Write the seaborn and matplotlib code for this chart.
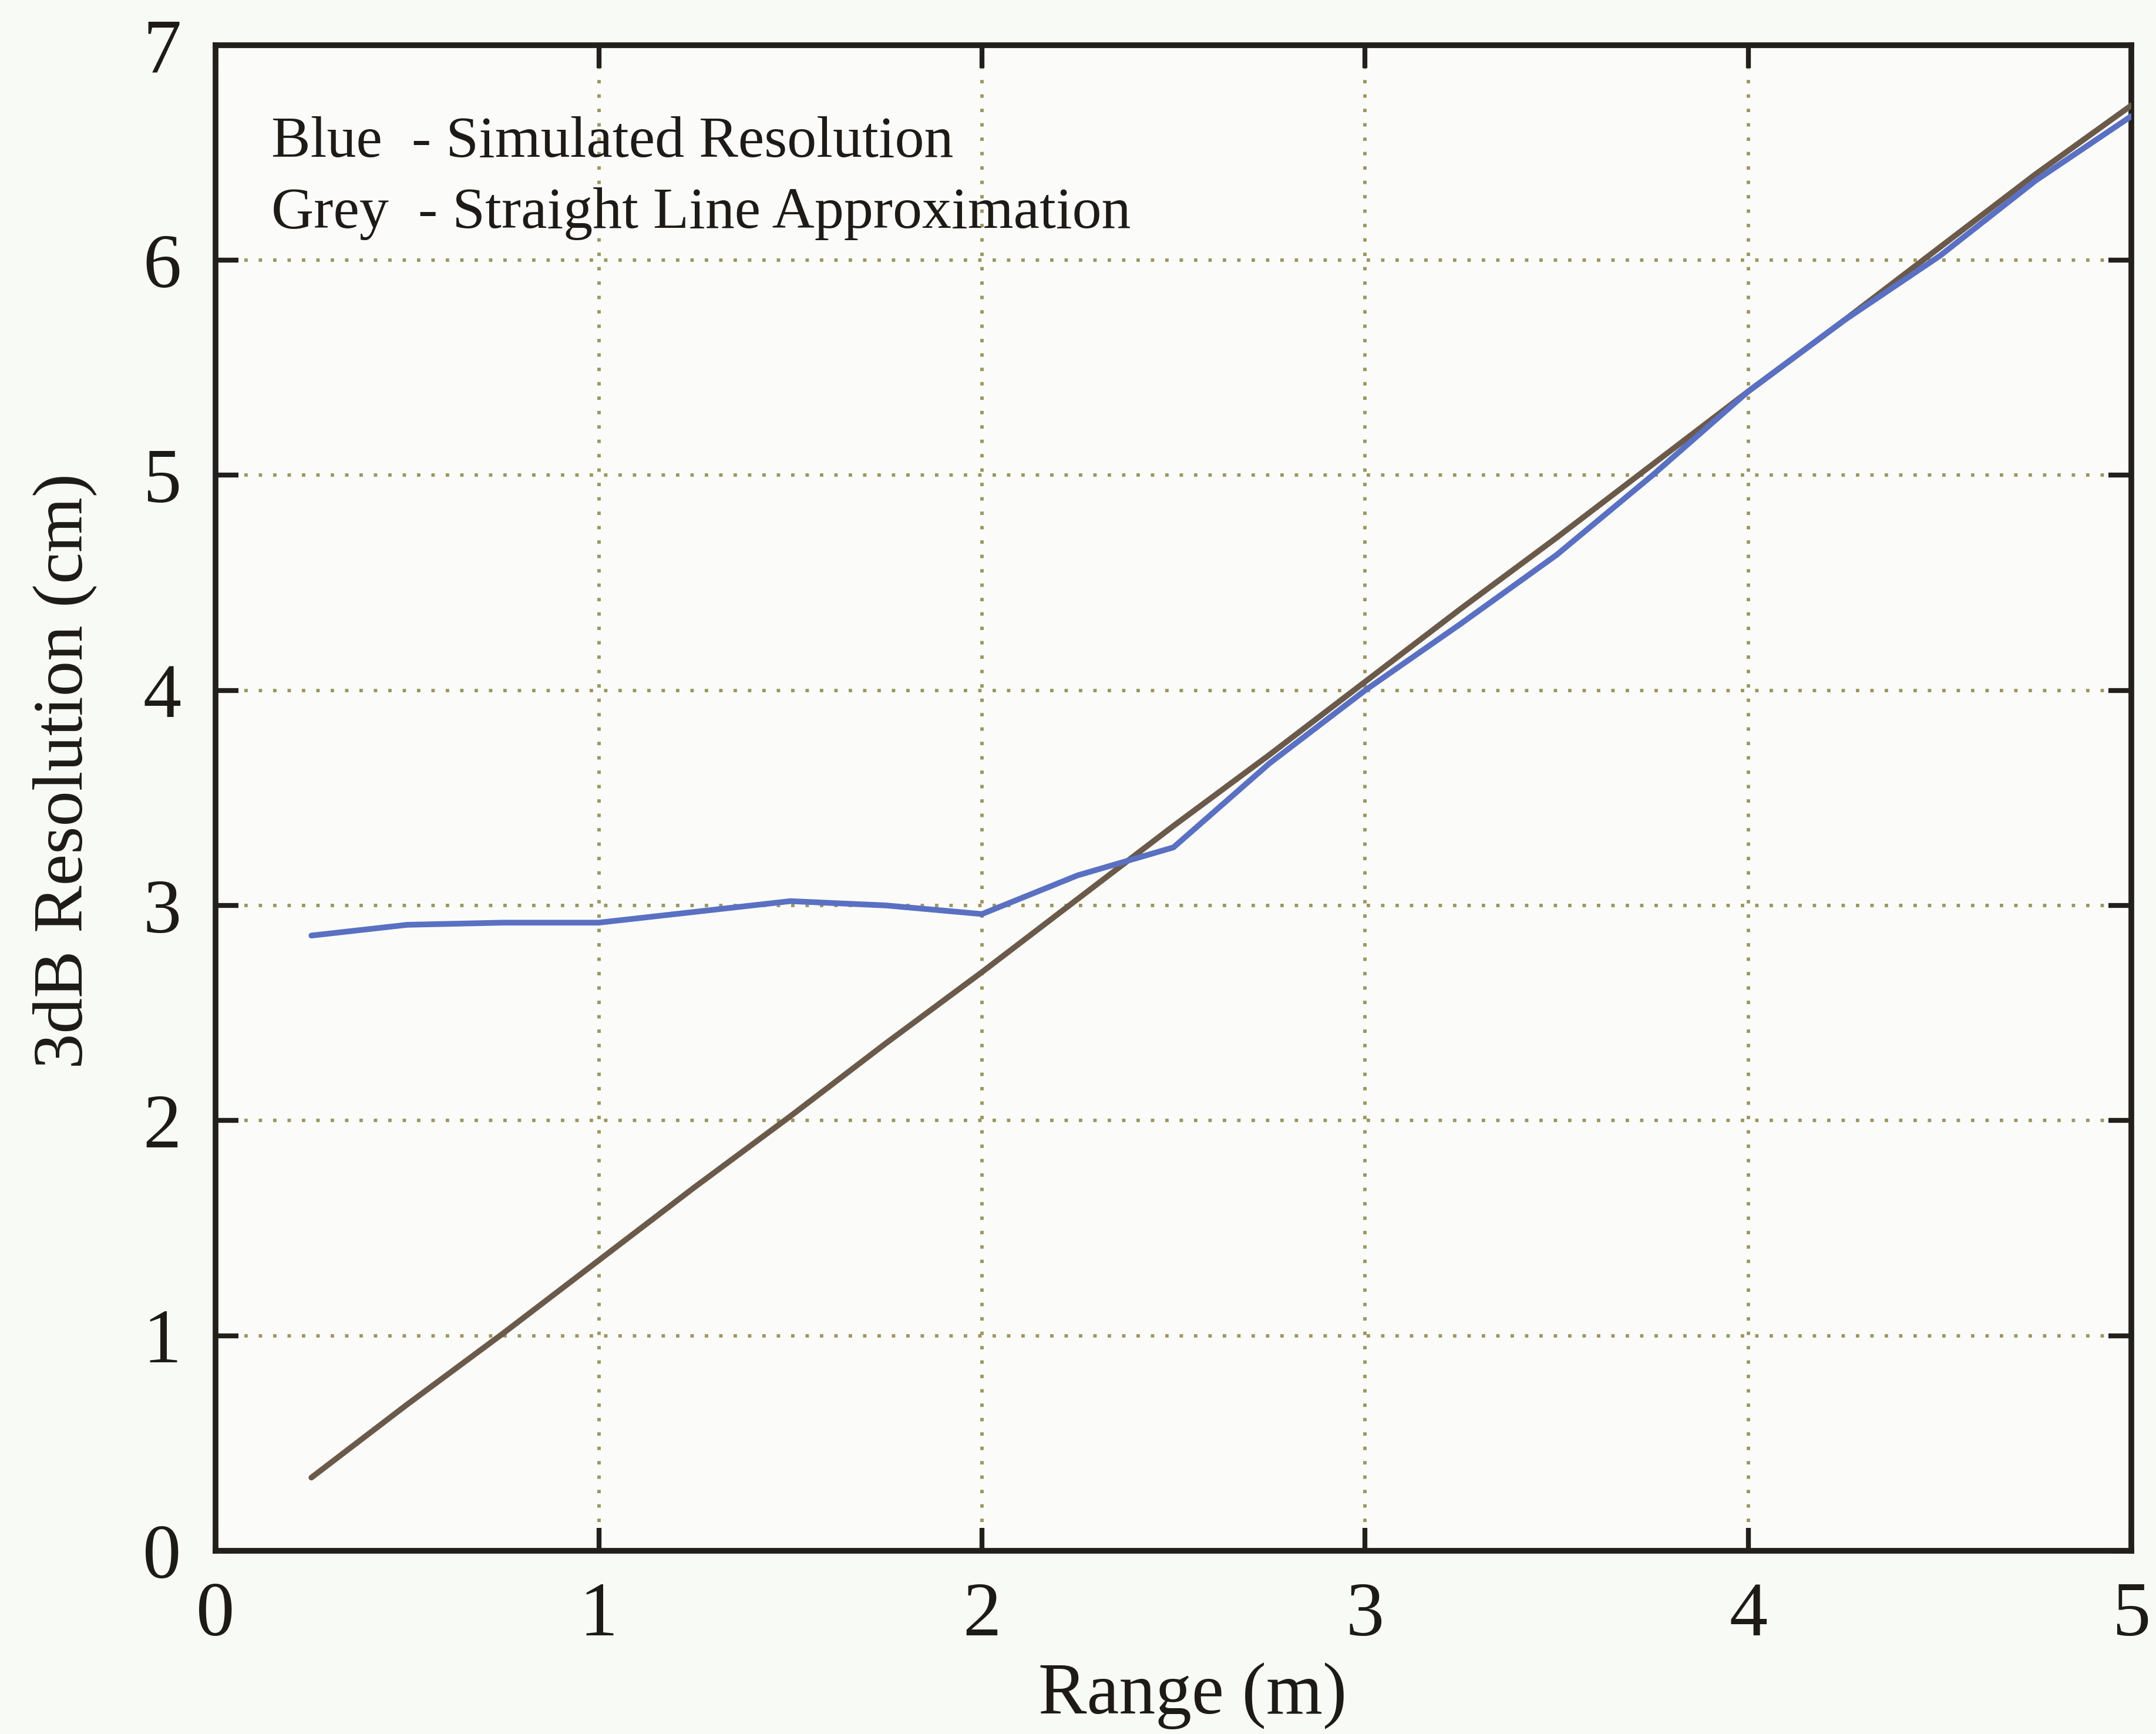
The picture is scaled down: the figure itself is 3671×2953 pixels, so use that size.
import matplotlib
matplotlib.use("Agg")
import matplotlib.pyplot as plt
import seaborn as sns
import pandas as pd

# Range samples (m)
range_m = [0.25, 0.5, 0.75, 1.0, 1.25, 1.5, 1.75, 2.0, 2.25, 2.5,
           2.75, 3.0, 3.25, 3.5, 3.75, 4.0, 4.25, 4.5, 4.75, 5.0]
# Simulated 3dB resolution (cm)
simulated_cm = [2.86, 2.91, 2.92, 2.92, 2.97, 3.02, 3.00, 2.96, 3.14, 3.27,
                3.66, 4.00, 4.31, 4.63, 5.00, 5.39, 5.72, 6.02, 6.37, 6.67]
# Straight line approximation (cm)
straight_cm = [0.34, 0.68, 1.01, 1.35, 1.69, 2.02, 2.36, 2.69, 3.03, 3.37,
               3.70, 4.04, 4.38, 4.71, 5.05, 5.39, 5.72, 6.06, 6.40, 6.72]

x_ticks = [0, 1, 2, 3, 4, 5]
y_ticks = [0, 1, 2, 3, 4, 5, 6, 7]

sns.set_theme(style="white")
plt.rcParams["font.family"] = ["Liberation Serif", "DejaVu Serif"]

df = pd.DataFrame({"range": range_m, "simulated": simulated_cm, "straight": straight_cm})

fig = plt.figure(figsize=(36.71, 29.53), dpi=100, facecolor="#f8faf6")
ax = fig.add_axes([0.100, 0.1057, 0.8886, 0.8683])
ax.set_facecolor("#fbfcfa")

grid_kw = dict(color="#9d9660", lw=4.2, ls=(0, (1.0, 3.2)), zorder=0)
for gx in x_ticks[1:-1]:
    ax.axvline(gx, **grid_kw)
for gy in y_ticks[1:-1]:
    ax.axhline(gy, **grid_kw)

sns.lineplot(data=df, x="range", y="straight", ax=ax, color="#6b5a4a", lw=7,
             zorder=3, sort=False)
sns.lineplot(data=df, x="range", y="simulated", ax=ax, color="#5a70c2", lw=7,
             zorder=4, sort=False)

ax.set_xlim(0, 5)
ax.set_ylim(0, 7)
ax.set_xticks(x_ticks)
ax.set_yticks(y_ticks)
ax.set_xticklabels([str(v) for v in x_ticks])
ax.set_yticklabels([str(v) for v in y_ticks])

for sp in ax.spines.values():
    sp.set_color("#231f1a")
    sp.set_linewidth(7)

ax.tick_params(axis="both", which="major", direction="in", length=28, width=6,
               color="#231f1a", labelsize=94, labelcolor="#1e1b16",
               top=True, right=True, bottom=True, left=True)
ax.tick_params(axis="x", pad=38)
ax.tick_params(axis="y", pad=42)

ax.set_xlabel("Range (m)", fontsize=89, color="#1e1b16")
ax.set_ylabel("3dB Resolution (cm)", fontsize=87, color="#1e1b16")
ax.xaxis.set_label_coords(0.51, -0.074)
ax.yaxis.set_label_coords(-0.062, 0.518)

ax.text(0.145, 6.48, "Blue  - Simulated Resolution", fontsize=72,
        color="#1e1b16", ha="left", va="baseline", zorder=5)
ax.text(0.145, 6.15, "Grey  - Straight Line Approximation", fontsize=72,
        color="#1e1b16", ha="left", va="baseline", zorder=5)

fig.savefig("out.png", dpi=100, facecolor=fig.get_facecolor())
